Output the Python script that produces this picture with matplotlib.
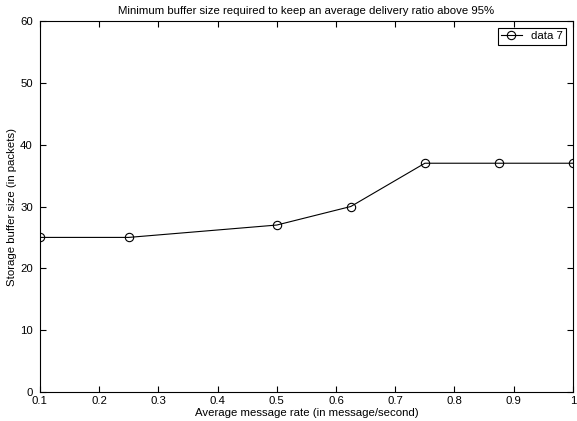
import matplotlib
matplotlib.use("Agg")
import matplotlib.pyplot as plt

rate = [0.1, 0.25, 0.5, 0.625, 0.75, 0.875, 1.0]
buffer_size = [25, 25, 27, 30, 37, 37, 37]
xticks = [0.1, 0.2, 0.3, 0.4, 0.5, 0.6, 0.7, 0.8, 0.9, 1.0]
xticklabels = ["0.1", "0.2", "0.3", "0.4", "0.5", "0.6", "0.7", "0.8", "0.9", "1"]
yticks = [0, 10, 20, 30, 40, 50, 60]

plt.rcParams['font.family'] = ['Liberation Sans', 'DejaVu Sans']
fig = plt.figure(figsize=(5.77, 4.21), dpi=100)
ax = fig.add_axes([0.069, 0.069, 0.924, 0.881])
ax.plot(rate, buffer_size, color='black', linewidth=0.8, marker='o',
        markersize=6, markerfacecolor='none', markeredgecolor='black',
        markeredgewidth=0.8, label='data 7')
ax.set_xlim(0.1, 1.0)
ax.set_ylim(0, 60)
ax.set_xticks(xticks)
ax.set_xticklabels(xticklabels)
ax.set_yticks(yticks)
ax.tick_params(direction='in', top=True, right=True, labelsize=8.2, length=4, width=0.8)
ax.tick_params(axis='x', pad=3)
ax.tick_params(axis='y', pad=5)
for s in ax.spines.values():
    s.set_linewidth(0.8)
ax.set_xlabel('Average message rate (in message/second)', fontsize=8.2, labelpad=1)
ax.set_ylabel('Storage buffer size (in packets)', fontsize=8.2, labelpad=2)
ax.set_title('Minimum buffer size required to keep an average delivery ratio above 95%', fontsize=8.2, pad=5)
leg = ax.legend(loc='upper right', fontsize=8.2, fancybox=False, framealpha=1,
                edgecolor='black', handlelength=1.8, borderpad=0.3, borderaxespad=0.6)
leg.get_frame().set_linewidth(0.8)
fig.savefig('out.png', dpi=100)
